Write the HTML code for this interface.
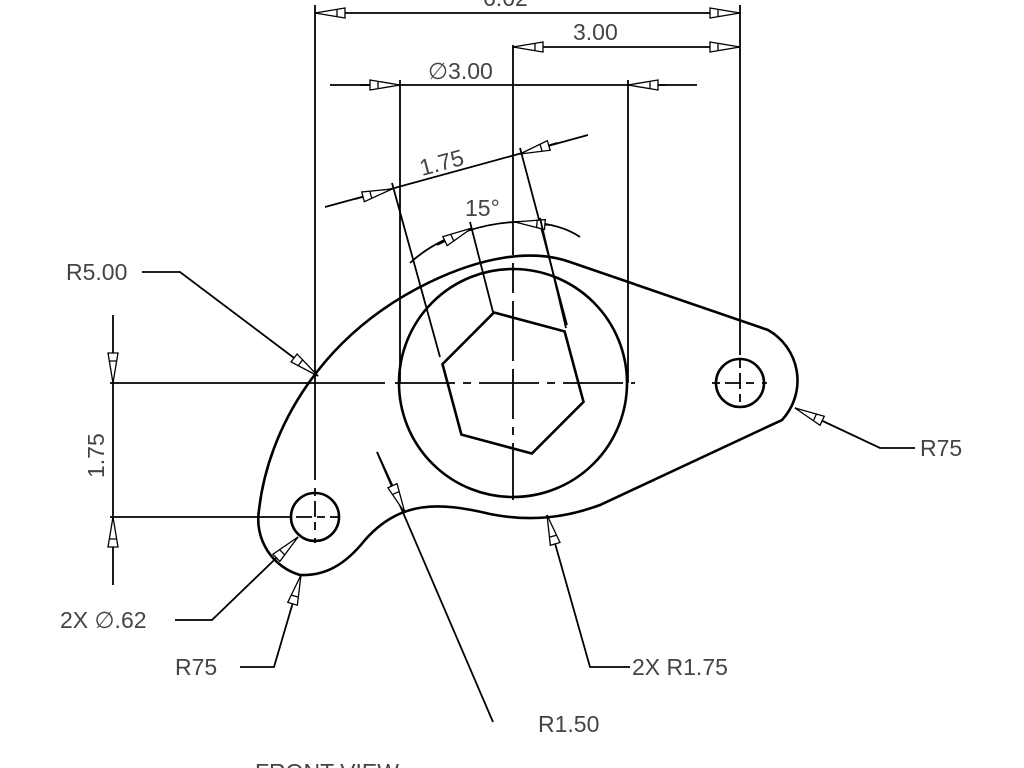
<!DOCTYPE html>
<html><head><meta charset="utf-8"><style>
html,body{margin:0;padding:0;background:#fff;}
svg{display:block;}
text{font-family:"Liberation Sans",sans-serif;fill:#444;font-size:23px;}
</style></head><body>
<svg width="1024" height="768" viewBox="0 0 1024 768" xmlns="http://www.w3.org/2000/svg">
<defs>
<marker id="a" viewBox="-34 -7 36 14" refX="0" refY="0" markerWidth="36" markerHeight="14" markerUnits="userSpaceOnUse" orient="auto-start-reverse">
<path d="M0,0 L-30,-5 L-30,5 Z M-22,-4 L-22,4" fill="#fff" stroke="#000" stroke-width="1.3"/>
</marker>
</defs>
<g stroke="#000" fill="none" stroke-width="1.8">
<!-- outline -->
<path stroke-width="2.6" d="M259,510 C268,430 320,335 430,282 C480,258 530,248 570,262 L768,330 A58 58 0 0 1 782,420 L600,505 C565,518 530,522 490,514 C440,502 400,500 365,540 C345,565 325,576 300,575 A58 58 0 0 1 259,510 Z"/>
<circle cx="513" cy="383" r="114" stroke-width="2.6"/>
<polygon stroke-width="2.6" points="494,312.5 564.6,331.4 583.5,401.9 531.9,453.5 461.4,434.6 442.5,364.1"/>
<circle cx="740" cy="383" r="24" stroke-width="2.6"/>
<circle cx="315" cy="517" r="24" stroke-width="2.6"/>
<!-- center lines -->
<line x1="110" y1="383" x2="385" y2="383"/>
<line x1="395" y1="383" x2="635" y2="383" stroke-dasharray="60 8 8 8"/>
<line x1="513" y1="45" x2="513" y2="500" stroke-dasharray="210 8 30 8 60 8 50 8 8 8 60 8"/>
<line x1="110" y1="517" x2="283" y2="517"/>
<line x1="283" y1="517" x2="342" y2="517" stroke-dasharray="8 5 16 5 8 5 8"/>
<line x1="315" y1="5" x2="315" y2="480"/>
<line x1="315" y1="488" x2="315" y2="545" stroke-dasharray="8 5 16 5 8"/>
<line x1="740" y1="5" x2="740" y2="355"/>
<line x1="740" y1="360" x2="740" y2="410" stroke-dasharray="8 5 16 5 8"/>
<line x1="712" y1="383" x2="768" y2="383" stroke-dasharray="8 5 16 5 8"/>
<!-- dims -->
<line x1="315" y1="13" x2="740" y2="13" marker-start="url(#a)" marker-end="url(#a)"/>
<line x1="513" y1="47" x2="740" y2="47" marker-start="url(#a)" marker-end="url(#a)"/>
<line x1="330" y1="85" x2="697" y2="85"/>
<line x1="360" y1="85" x2="400" y2="85" marker-end="url(#a)"/>
<line x1="665" y1="85" x2="628" y2="85" marker-end="url(#a)"/>
<line x1="400" y1="80" x2="400" y2="383"/>
<line x1="628" y1="80" x2="628" y2="383"/>
<line x1="325" y1="207" x2="588" y2="135"/>
<line x1="355" y1="199" x2="392" y2="189" marker-end="url(#a)"/>
<line x1="557" y1="143" x2="520" y2="154" marker-end="url(#a)"/>
<line x1="392" y1="183" x2="440" y2="357"/>
<line x1="520" y1="148" x2="567" y2="325"/>
<path d="M410,263 C440,235 490,220 530,222 C555,224 570,230 580,237"/>
<line x1="437" y1="245" x2="472" y2="228" marker-end="url(#a)"/>
<line x1="550" y1="225" x2="515" y2="222" marker-end="url(#a)"/>
<line x1="470" y1="222" x2="493" y2="312"/>
<line x1="540" y1="218" x2="566" y2="328"/>
<line x1="113" y1="315" x2="113" y2="383" marker-end="url(#a)"/>
<line x1="113" y1="585" x2="113" y2="517" marker-end="url(#a)"/>
<line x1="113" y1="383" x2="113" y2="517"/>
<!-- leaders -->
<polyline points="142,272 180,272 318,376" marker-end="url(#a)"/>
<polyline points="915,448 880,448 795,408" marker-end="url(#a)"/>
<polyline points="175,620 212,620 298,537" marker-end="url(#a)"/>
<polyline points="240,667 274,667 301,575" marker-end="url(#a)"/>
<polyline points="630,667 590,667 547,515" marker-end="url(#a)"/>
<line x1="493" y1="722" x2="377" y2="452"/>
<line x1="377" y1="452" x2="405" y2="513" marker-end="url(#a)"/>
</g>
<text x="483" y="6">6.62</text>
<text x="573" y="40">3.00</text>
<text x="428" y="79">&#8709;3.00</text>
<text x="0" y="0" transform="translate(422,176) rotate(-15)">1.75</text>
<text x="465" y="216">15°</text>
<text x="66" y="280">R5.00</text>
<text x="0" y="0" transform="translate(104,478) rotate(-90)">1.75</text>
<text x="920" y="456">R75</text>
<text x="60" y="628">2X &#8709;.62</text>
<text x="175" y="675">R75</text>
<text x="632" y="675">2X R1.75</text>
<text x="538" y="732">R1.50</text>
<text x="255" y="780">FRONT VIEW</text>
</svg>
</body></html>
